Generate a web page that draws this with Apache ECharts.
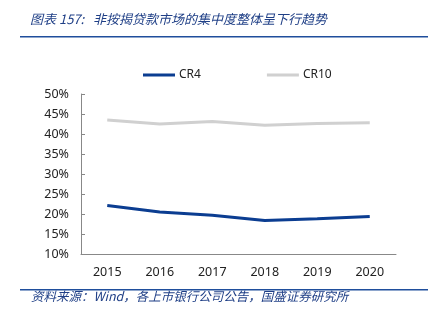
<!DOCTYPE html>
<html>
<head>
<meta charset="utf-8">
<script src="https://cdn.jsdelivr.net/npm/echarts@6/dist/echarts.min.js"></script>
<style>html,body{margin:0;padding:0;background:#fff;}#c{width:436px;height:325px;}</style>
</head>
<body>
<div id="c"></div>
<script>
var categories = ['2015', '2016', '2017', '2018', '2019', '2020'];
var cr4 = [22.1, 20.5, 19.7, 18.4, 18.8, 19.4];
var cr10 = [43.5, 42.5, 43.1, 42.2, 42.6, 42.8];
var seriesNames = ['CR4', 'CR10'];
var titleText = '图表 157:   非按揭贷款市场的集中度整体呈下行趋势';
var sourceText = '资料来源：Wind，各上市银行公司公告，国盛证券研究所';

var chart = echarts.init(document.getElementById('c'));
var blue = '#0b3d91';
chart.setOption({
  animation: false,
  backgroundColor: '#fff',
  grid: { left: 81, right: 40, top: 94, bottom: 71 },
  legend: {
    top: 64, left: 138,
    itemWidth: 32, itemHeight: 10, itemGap: 66,
    icon: 'path://M0,4 L32,4 L32,7 L0,7 Z',
    textStyle: { fontFamily: 'Noto Sans', fontSize: 12, color: '#222', padding: [0, 0, 0, -1] },
    data: seriesNames
  },
  xAxis: {
    type: 'category', data: categories,
    axisLine: { lineStyle: { color: '#888' } },
    axisTick: { inside: true, length: 4, lineStyle: { color: '#888' } },
    axisLabel: { fontFamily: 'Noto Sans', fontSize: 12.5, color: '#222', margin: 12 }
  },
  yAxis: {
    type: 'value', min: 10, max: 50, interval: 5,
    axisLine: { show: true, lineStyle: { color: '#888' } },
    axisTick: { show: true, inside: true, length: 4, lineStyle: { color: '#888' } },
    splitLine: { show: false },
    axisLabel: { fontFamily: 'Noto Sans', fontSize: 12.5, color: '#222', margin: 12, formatter: '{value}%' }
  },
  series: [
    { name: 'CR4', type: 'line', data: cr4, symbol: 'none', lineStyle: { color: blue, width: 3 }, itemStyle: { color: blue } },
    { name: 'CR10', type: 'line', data: cr10, symbol: 'none', lineStyle: { color: '#d0d0d0', width: 3 }, itemStyle: { color: '#d0d0d0' } }
  ],
  graphic: [
    { type: 'text', left: 30, top: 13, style: { text: titleText, fill: '#1f3f86', font: 'italic 13px "Noto Sans CJK SC"' } },
    { type: 'rect', shape: { x: 20, y: 36, width: 408, height: 1.5 }, style: { fill: '#1f4e9c' } },
    { type: 'rect', shape: { x: 20, y: 289, width: 408, height: 1.5 }, style: { fill: '#1f4e9c' } },
    { type: 'text', left: 31, top: 290, style: { text: sourceText, fill: '#1f3f86', font: 'italic 12.5px "Noto Sans CJK SC"' } }
  ]
});
</script>
</body>
</html>
